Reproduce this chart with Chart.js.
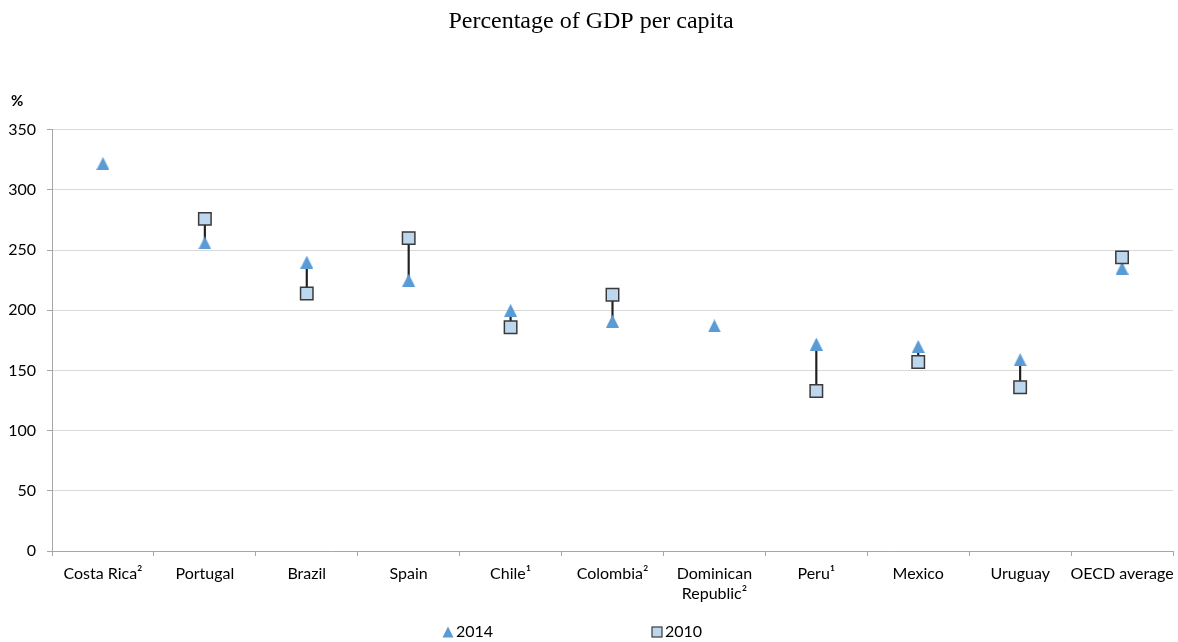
<!DOCTYPE html>
<html>
<head>
<meta charset="utf-8">
<script src="https://cdn.jsdelivr.net/npm/chart.js@4/dist/chart.umd.min.js"></script>
<style>
  html, body { margin: 0; padding: 0; background: #fff; }
  #wrap { width: 1178px; height: 642px; position: relative; }
</style>
</head>
<body>
<div id="wrap"><canvas id="c" width="1178" height="642"></canvas></div>
<script>
// Categories (multi-line labels are arrays)
const categories = [
  'Costa Rica²', 'Portugal', 'Brazil', 'Spain', 'Chile¹', 'Colombia²',
  ['Dominican', 'Republic²'], 'Peru¹', 'Mexico', 'Uruguay', 'OECD average'
];
// Percentage of GDP per capita, by year
const values2014 = [322, 256, 240, 225, 200, 191, 187, 172, 170, 159, 235];
const values2010 = [null, 276, 214, 260, 186, 213, null, 133, 157, 136, 244];
const seriesLabels = ['2014', '2010'];
const yTicks = { min: 0, max: 350, step: 50 };

const BLUE = '#5B9BD5';
const LIGHT = '#BDD7EE';
const EDGE = '#3a3a3a';
const AXIS = '#a6a6a6';
const GRID = '#d9d9d9';
const FONT = 'Lato';

// Triangle marker drawn into a small canvas so it is centred on its box
function triangleImage(size, color) {
  const cv = document.createElement('canvas');
  cv.width = size; cv.height = size;
  const g = cv.getContext('2d');
  g.fillStyle = color;
  g.beginPath();
  g.moveTo(size / 2, 0);
  g.lineTo(size, size);
  g.lineTo(0, size);
  g.closePath();
  g.fill();
  return cv;
}
const triMarker = triangleImage(13, BLUE);

// Vertical connectors between the two years
const connectors = values2014.map((v, i) =>
  values2010[i] == null ? null : [v, values2010[i]]);

// Let the category axis run to the right edge even though the last label
// slightly overhangs its slot
const flushAxis = {
  id: 'flushAxis',
  beforeLayout(chart) {
    const x = chart.scales.x;
    if (x) x.getPadding = () => ({ top: 0, left: 0, right: 0, bottom: 0 });
  }
};

// Legend drawn centred below the axis, with wide spacing between entries
const bottomLegend = {
  id: 'bottomLegend',
  afterDraw(chart) {
    const ctx = chart.ctx;
    const y = 632;
    ctx.save();
    ctx.font = '16px ' + FONT;
    ctx.fillStyle = '#000';
    ctx.textBaseline = 'middle';
    ctx.textAlign = 'left';
    // 2014 entry
    ctx.fillStyle = BLUE;
    ctx.beginPath();
    ctx.moveTo(448, y - 5.5);
    ctx.lineTo(453.5, y + 5.5);
    ctx.lineTo(442.5, y + 5.5);
    ctx.closePath();
    ctx.fill();
    ctx.fillStyle = '#000';
    ctx.fillText(seriesLabels[0], 456, y);
    // 2010 entry
    ctx.fillStyle = LIGHT;
    ctx.strokeStyle = EDGE;
    ctx.lineWidth = 1.2;
    ctx.fillRect(652, y - 5, 10, 10);
    ctx.strokeRect(652, y - 5, 10, 10);
    ctx.fillStyle = '#000';
    ctx.fillText(seriesLabels[1], 665, y);
    // unit label above the value axis
    ctx.font = 'bold 15px ' + FONT;
    ctx.textBaseline = 'alphabetic';
    ctx.fillText('%', 11, 106);
    ctx.restore();
  }
};

new Chart(document.getElementById('c'), {
  type: 'bar',
  data: {
    labels: categories,
    datasets: [
      {
        type: 'bar',
        label: 'range',
        data: connectors,
        backgroundColor: '#1f1f1f',
        barThickness: 1.5,
        order: 3
      },
      {
        type: 'line',
        label: seriesLabels[0],
        data: values2014,
        showLine: false,
        pointStyle: triMarker,
        pointRadius: 7,
        pointHoverRadius: 7,
        order: 2
      },
      {
        type: 'line',
        label: seriesLabels[1],
        data: values2010,
        showLine: false,
        pointStyle: 'rect',
        pointRadius: 8.8,
        pointHoverRadius: 8.8,
        pointBackgroundColor: LIGHT,
        pointBorderColor: EDGE,
        pointBorderWidth: 1.5,
        order: 1
      }
    ]
  },
  options: {
    responsive: false,
    animation: false,
    events: [],
    layout: { autoPadding: false, padding: { left: 9, right: 5, top: 0, bottom: 30 } },
    plugins: {
      legend: { display: false },
      tooltip: { enabled: false },
      title: {
        display: true,
        text: 'Percentage of GDP per capita',
        color: '#000',
        font: { family: 'Liberation Serif', size: 24, weight: 'normal' },
        padding: { top: 7, bottom: 94 }
      }
    },
    scales: {
      x: {
        offset: true,
        grid: {
          display: true,
          offset: true,
          drawOnChartArea: false,
          drawTicks: true,
          tickLength: 5,
          tickColor: AXIS
        },
        border: { color: AXIS, width: 1 },
        ticks: {
          autoSkip: false,
          maxRotation: 0,
          minRotation: 0,
          padding: 8,
          color: '#000',
          font: { family: FONT, size: 16, lineHeight: 1.25 }
        }
      },
      y: {
        min: yTicks.min,
        max: yTicks.max,
        afterFit(scale) { scale.width = 43; },
        grid: {
          color: GRID,
          tickColor: AXIS,
          tickLength: 5,
          lineWidth: 1
        },
        border: { color: AXIS, width: 1 },
        ticks: {
          stepSize: yTicks.step,
          padding: 11,
          color: '#000',
          font: { family: FONT, size: 16 }
        }
      }
    }
  },
  plugins: [flushAxis, bottomLegend]
});
</script>
</body>
</html>
